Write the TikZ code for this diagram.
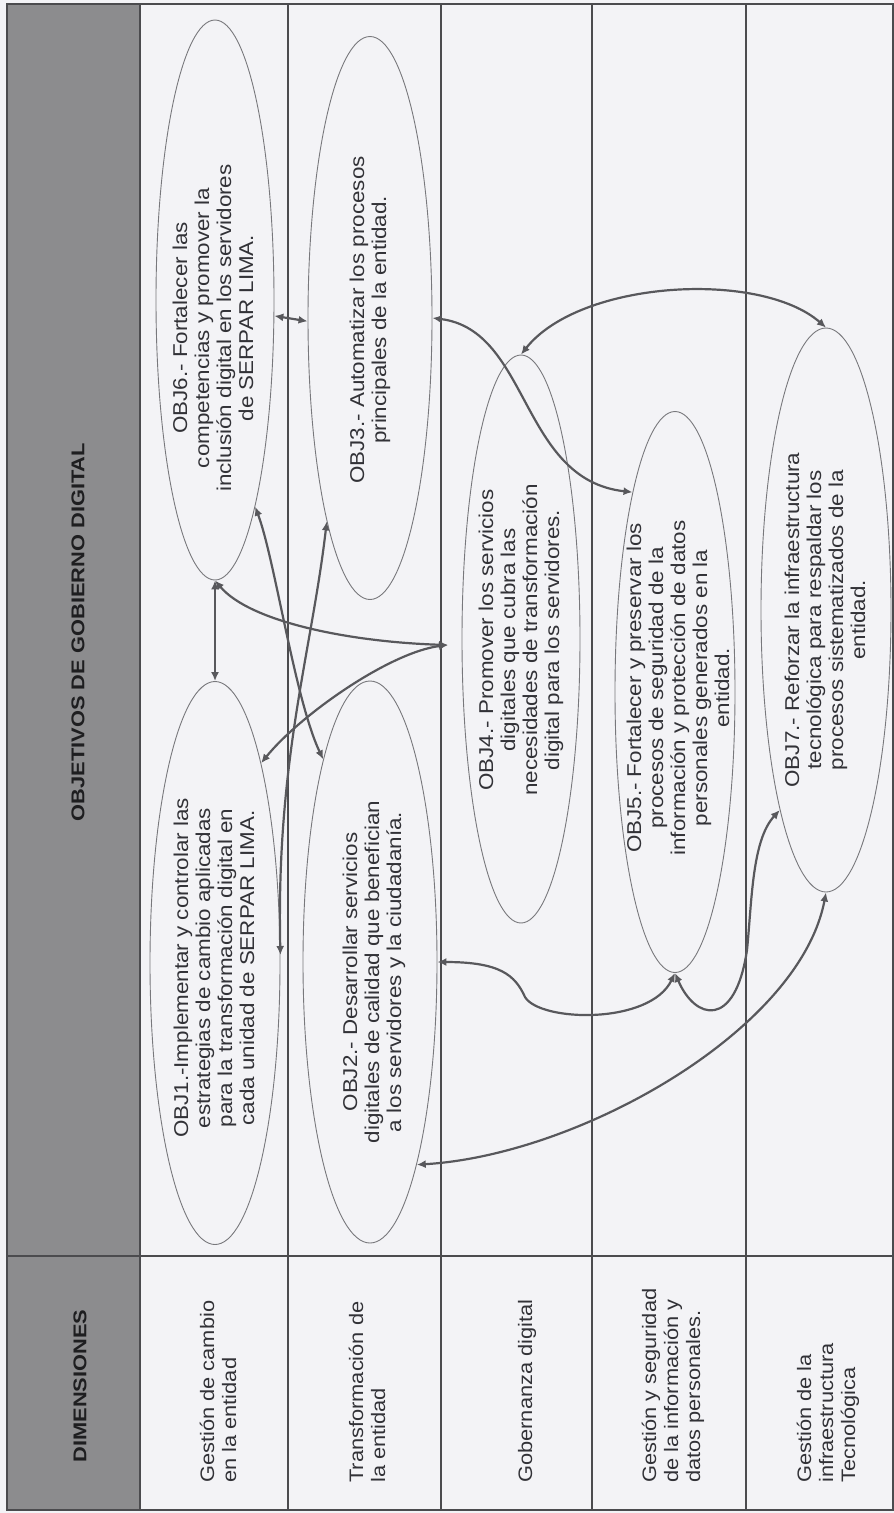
\documentclass[tikz,border=0pt]{standalone}
\usepackage{fontspec}
\setmainfont{Liberation Sans}
\usetikzlibrary{shapes.geometric,arrows.meta}
\definecolor{bgc}{RGB}{243,243,246}
\definecolor{hdr}{RGB}{140,140,142}
\definecolor{tline}{RGB}{75,75,78}
\definecolor{eline}{RGB}{120,120,124}
\definecolor{aline}{RGB}{88,88,92}
\definecolor{txt}{RGB}{50,50,55}
\definecolor{htxt}{RGB}{30,30,32}
\tikzset{
  tbl/.style={draw=tline, line width=1.1pt},
  objell/.style={ellipse, draw=eline, line width=0.9pt, inner sep=0pt},
  rtxt/.style={rotate=90, xscale=1.12, inner sep=0pt, text=txt},
  objtxt/.style={rtxt, align=center, font=\fontsize{20}{22}\selectfont},
  dimtxt/.style={rtxt, align=left, anchor=west, font=\fontsize{19.5}{22}\selectfont},
  hdrtxt/.style={rotate=90, xscale=1.18, inner sep=0pt, text=htxt, font=\fontsize{18.5}{20}\selectfont\bfseries},
  link/.style={draw=aline, line width=2.2pt, >={Latex[length=9pt,width=8pt]}, <->},
}
\begin{document}
\begin{tikzpicture}[x=1pt,y=-1pt]
\useasboundingbox (0,0) rectangle (894,1513);
\fill[bgc] (0,0) rectangle (894,1513);
% table
\fill[hdr] (7,4) rectangle (140,1510);
\draw[tbl] (7,4) rectangle (893,1510);
\foreach \x in {140,288,441,592,746} \draw[tbl] (\x,4) -- (\x,1510);
\draw[tbl] (7,1256) -- (893,1256);
% headers
\node[hdrtxt] (hobj) at (78,632) {OBJETIVOS DE GOBIERNO DIGITAL};
\node[hdrtxt] (hdim) at (80,1386) {DIMENSIONES};
% dimensions
\node[dimtxt] (d1) at (218,1483) {Gestión de cambio\\en la entidad};
\node[dimtxt] (d2) at (367,1483) {Transformación de\\la entidad};
\node[dimtxt] (d3) at (527,1483) {Gobernanza digital};
\node[dimtxt] (d4) at (673,1483) {Gestión y seguridad\\de la información y\\datos personales.};
\node[dimtxt] (d5) at (828,1483) {Gestión de la\\infraestructura\\Tecnológica};
% ellipses
\node[objell, minimum width=118, minimum height=560] (o6) at (215,300) {};
\node[objell, minimum width=130, minimum height=563] (o1) at (215,963) {};
\node[objell, minimum width=124, minimum height=563] (o3) at (370,318) {};
\node[objell, minimum width=134, minimum height=562] (o2) at (370,962) {};
\node[objell, minimum width=118, minimum height=568] (o4) at (521,639) {};
\node[objell, minimum width=120, minimum height=561] (o5) at (675,692) {};
\node[objell, minimum width=130, minimum height=564] (o7) at (826,610) {};
% objective texts
\node[objtxt] (t6) at (213,328) {OBJ6.- Fortalecer las\\competencias y promover la\\inclusión digital en los servidores\\de SERPAR LIMA.};
\node[objtxt] (t3) at (370,320) {OBJ3.- Automatizar los procesos\\principales de la entidad.};
\node[objtxt] (t1) at (214,968) {OBJ1.-Implementar y controlar las\\estrategias de cambio aplicadas\\para la transformación digital en\\cada unidad de SERPAR LIMA.};
\node[objtxt] (t2) at (374,972) {OBJ2.- Desarrollar servicios\\digitales de calidad que benefician\\a los servidores y la ciudadanía.};
\node[objtxt] (t4) at (521,640) {OBJ4.- Promover los servicios\\digitales que cubra las\\necesidades de transformación\\digital para los servidores.};
\node[objtxt] (t5) at (678,688) {OBJ5.- Fortalecer y preservar los\\procesos de seguridad de la\\información y protección de datos\\personales generados en la\\entidad.};
\node[objtxt] (t7) at (825,620) {OBJ7.- Reforzar la infraestructura\\tecnológica para respaldar los\\procesos sistematizados de la\\entidad.};
% connectors
\coordinate (h4) at (448,645);
\draw[link] (o6.south) -- (o1.north);
\draw[link] (h4) .. controls (350,642) and (250,622) .. (o6.south);
\draw[link] (h4) .. controls (390,652) and (300,715) .. (o1.77);
\draw[link] (o6.281) .. controls (275,560) and (295,700) .. (o2.103);
\draw[link] (o3.258) .. controls (312,650) and (276,760) .. (o1.7);
\draw[link] (o6.345) -- (o3.183);
\draw[link] (o3.east) .. controls (530,330) and (520,480) .. (o5.102);
\draw[link] (o4.north) .. controls (580,280) and (760,270) .. (o7.north);
\draw[link] (o2.east) .. controls (500,962) and (515,975) .. (525,997) .. controls (540,1022) and (650,1025) .. (o5.south);
\draw[link] (o5.south) .. controls (695,1020) and (735,1030) .. (747,950) .. controls (752,900) and (752,840) .. (o7.257);
\draw[link] (o7.south) .. controls (800,1030) and (580,1155) .. (o2.283);
\end{tikzpicture}
\end{document}
